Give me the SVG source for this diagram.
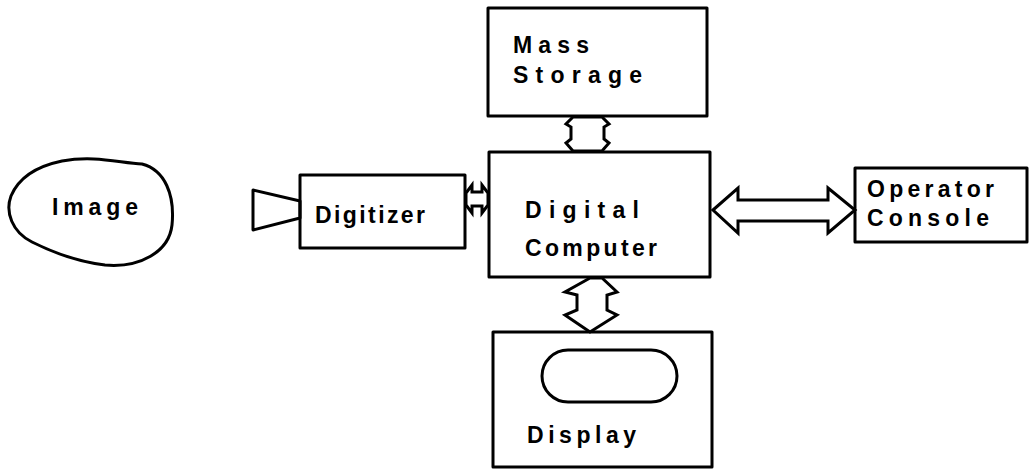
<svg xmlns="http://www.w3.org/2000/svg" width="1030" height="470" viewBox="0 0 1030 470">
<style>
.s{fill:none;stroke:#000;stroke-width:3;stroke-linejoin:round}
.b{fill:#fff;stroke:#000;stroke-width:3}
.t{font-family:"Liberation Sans",Arial,sans-serif;font-weight:bold;font-size:23px;fill:#000}
</style>
<rect width="1030" height="470" fill="#fff"/>
<g id="connectors">
<path class="b" d="M573,117 L602,117 L609,124 L604,127 L604,139 L609,143 L602,151 L573,151 L566,143 L571,139 L571,127 L566,124 Z"/>
<path class="b" d="M466,193 L472,185 L472,192 L482,192 L482,185 L488,193 L488,205 L482,213 L482,206 L472,206 L472,213 L466,205 Z"/>
<path class="b" d="M713,210 L738,188 L738,200 L828,200 L828,188 L855,210 L828,233 L828,221 L738,221 L738,233 Z"/>
<path class="b" d="M590,278 L565,292 L577,295 L577,310 L565,315 L590,332 L617,315 L607,310 L607,295 L617,292 L602,278 Z"/>
</g>
<g id="image">
<path class="s" d="M62,161 C95,155 120,163 142,164 C165,170 175,195 172,225 C169,252 140,268 105,265 C80,262 52,252 32,242 C12,232 5,212 11,196 C19,177 38,166 62,161 Z"/>
<text class="t" x="52" y="215" textLength="86" lengthAdjust="spacing">Image</text>
</g>
<g id="digitizer">
<polygon class="s" points="253,190 300,201 300,218 253,230"/>
<rect class="s" x="300" y="175" width="165" height="73"/>
<text class="t" x="315" y="223" textLength="110" lengthAdjust="spacing">Digitizer</text>
</g>
<g id="mass-storage">
<rect class="s" x="488" y="8" width="219" height="108"/>
<text class="t" x="513" y="53" textLength="76" lengthAdjust="spacing">Mass</text>
<text class="t" x="513" y="83" textLength="129" lengthAdjust="spacing">Storage</text>
</g>
<g id="digital-computer">
<rect class="s" x="489" y="152" width="221" height="125"/>
<text class="t" x="525" y="218" textLength="114" lengthAdjust="spacing">Digital</text>
<text class="t" x="525" y="256" textLength="132" lengthAdjust="spacing">Computer</text>
</g>
<g id="operator-console">
<rect class="s" x="855" y="168" width="172" height="74"/>
<text class="t" x="867" y="197" textLength="127" lengthAdjust="spacing">Operator</text>
<text class="t" x="867" y="226" textLength="122" lengthAdjust="spacing">Console</text>
</g>
<g id="display">
<rect class="s" x="493" y="332" width="219" height="135"/>
<rect class="s" x="542" y="350" width="135" height="52" rx="26"/>
<text class="t" x="527" y="443" textLength="109" lengthAdjust="spacing">Display</text>
</g>
</svg>
